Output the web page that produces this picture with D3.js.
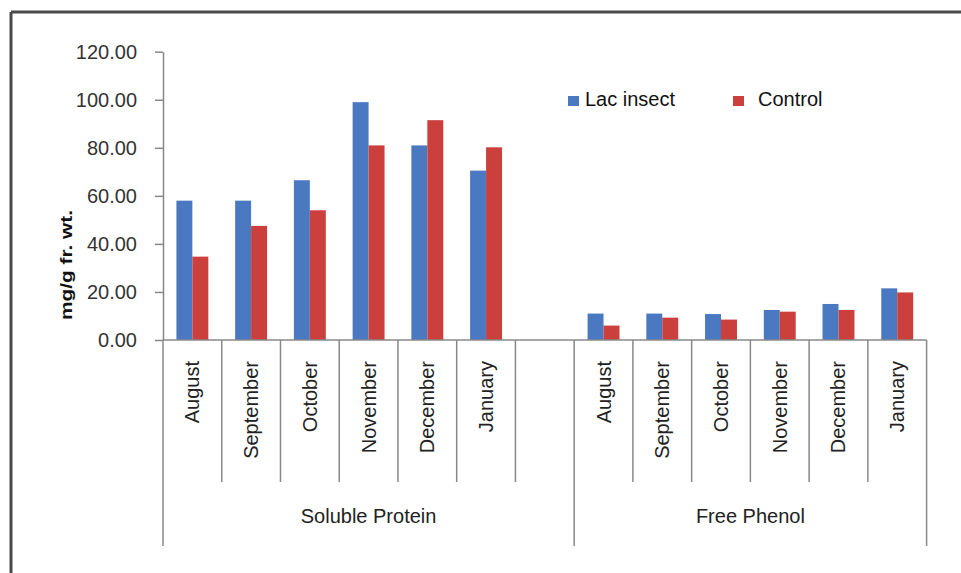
<!DOCTYPE html>
<html>
<head>
<meta charset="utf-8">
<script src="https://cdn.jsdelivr.net/npm/d3@7"></script>
<style>
  body { margin: 0; background: #fff; }
  text { font-family: "Liberation Sans", Arial, sans-serif; }
</style>
</head>
<body>
<div id="chart-div"></div>
<script>
// chart values
const groups = ["Soluble Protein", "Free Phenol"];
const months = ["August", "September", "October", "November", "December", "January"];
const seriesNames = ["Lac insect", "Control"];
const proteinLac = [58.0, 58.0, 66.5, 99.0, 81.0, 70.5];
const proteinControl = [34.7, 47.5, 54.0, 81.0, 91.5, 80.2];
const phenolLac = [11.0, 11.0, 10.8, 12.5, 15.0, 21.5];
const phenolControl = [6.0, 9.3, 8.5, 11.8, 12.5, 19.8];
const yTicks = [0, 20, 40, 60, 80, 100, 120];
const yTitle = "mg/g fr. wt.";

const colors = ["#4a79c2", "#cb3f3c"];
const width = 961, height = 573;

// build the 13 slots: 6 protein months, an empty slot, 6 phenol months
let slots = [];
months.forEach((m, i) => slots.push({key: "p" + i, label: m, values: [proteinLac[i], proteinControl[i]]}));
slots.push({key: "gap", label: "", values: null});
months.forEach((m, i) => slots.push({key: "f" + i, label: m, values: [phenolLac[i], phenolControl[i]]}));

let svg = d3.select("#chart-div")
    .append("svg")
    .attr("width", width)
    .attr("height", height);

// frame lines (top and left)
svg.append("line")
    .attr("x1", 11).attr("x2", width)
    .attr("y1", 12).attr("y2", 12)
    .attr("stroke", "#4a4a4a").attr("stroke-width", 3);
svg.append("line")
    .attr("x1", 11).attr("x2", 11)
    .attr("y1", 12).attr("y2", height)
    .attr("stroke", "#4a4a4a").attr("stroke-width", 3);

let y = d3.scaleLinear()
    .domain([0, 120])
    .range([340, 51.7]);

let x = d3.scaleBand()
    .domain(slots.map(d => d.key))
    .range([163, 926.6])
    .padding(0);

let xInner = d3.scaleBand()
    .domain(seriesNames)
    .range([0, x.bandwidth()])
    .paddingInner(0)
    .paddingOuter(0.84);

// bars
slots.filter(d => d.values).forEach(slot => {
    svg.selectAll(null)
        .data(slot.values)
        .enter()
        .append("rect")
        .attr("x", (v, i) => x(slot.key) + xInner(seriesNames[i]))
        .attr("y", v => y(v))
        .attr("width", xInner.bandwidth())
        .attr("height", v => y(0) - y(v))
        .attr("fill", (v, i) => colors[i]);
});

// y axis
let yAxis = svg.append("g")
    .attr("transform", "translate(163,0)")
    .call(d3.axisLeft(y)
        .tickValues(yTicks)
        .tickFormat(d3.format(".2f"))
        .tickSizeInner(8)
        .tickSizeOuter(0)
        .tickPadding(18));
yAxis.select(".domain").attr("stroke", "#888").attr("stroke-width", 1.5);
yAxis.selectAll(".tick line").attr("stroke", "#888").attr("stroke-width", 1.5);
yAxis.selectAll(".tick text")
    .attr("font-size", 20)
    .attr("fill", "#333")
    .style("font-family", "'Liberation Sans', Arial, sans-serif");

// y title
svg.append("text")
    .attr("transform", "translate(66,265) rotate(-90)")
    .attr("text-anchor", "middle")
    .attr("dy", "0.35em")
    .attr("font-size", 17)
    .attr("font-weight", "bold")
    .attr("fill", "#111")
    .attr("textLength", 110)
    .attr("lengthAdjust", "spacingAndGlyphs")
    .text(yTitle);

// x axis line
svg.append("line")
    .attr("x1", x.range()[0]).attr("x2", x.range()[1])
    .attr("y1", y(0)).attr("y2", y(0))
    .attr("stroke", "#888").attr("stroke-width", 1.5);

// category separators: long at group edges, short elsewhere
let edges = d3.range(slots.length + 1);
let longEdges = [0, months.length + 1, slots.length];
svg.selectAll(".sep")
    .data(edges)
    .enter()
    .append("line")
    .attr("class", "sep")
    .attr("x1", i => x.range()[0] + i * x.step())
    .attr("x2", i => x.range()[0] + i * x.step())
    .attr("y1", y(0))
    .attr("y2", i => longEdges.includes(i) ? 546 : 482)
    .attr("stroke", "#888").attr("stroke-width", 1.5);

// month labels
svg.selectAll(".month")
    .data(slots.filter(d => d.label))
    .enter()
    .append("text")
    .attr("class", "month")
    .attr("transform", d => `translate(${x(d.key) + x.bandwidth() / 2},361) rotate(-90)`)
    .attr("text-anchor", "end")
    .attr("dy", "0.35em")
    .attr("font-size", 20)
    .attr("fill", "#222")
    .text(d => d.label);

// group labels
let groupSpans = [[0, months.length + 1], [months.length + 1, slots.length]];
svg.selectAll(".group")
    .data(groups)
    .enter()
    .append("text")
    .attr("class", "group")
    .attr("x", (g, i) => x.range()[0] + (groupSpans[i][0] + groupSpans[i][1]) / 2 * x.step())
    .attr("y", 523)
    .attr("text-anchor", "middle")
    .attr("font-size", 20)
    .attr("fill", "#222")
    .text(g => g);

// legend
let legendX = [568, 733];
let legend = svg.selectAll(".legend")
    .data(seriesNames)
    .enter()
    .append("g")
    .attr("class", "legend")
    .attr("transform", (d, i) => `translate(${legendX[i]},96)`);

legend.append("rect")
    .attr("width", 11)
    .attr("height", 10)
    .attr("fill", (d, i) => colors[i]);

legend.append("text")
    .attr("x", (d, i) => i === 0 ? 17 : 25)
    .attr("y", 10)
    .attr("font-size", 20)
    .attr("fill", "#111")
    .text(d => d);
</script>
</body>
</html>
